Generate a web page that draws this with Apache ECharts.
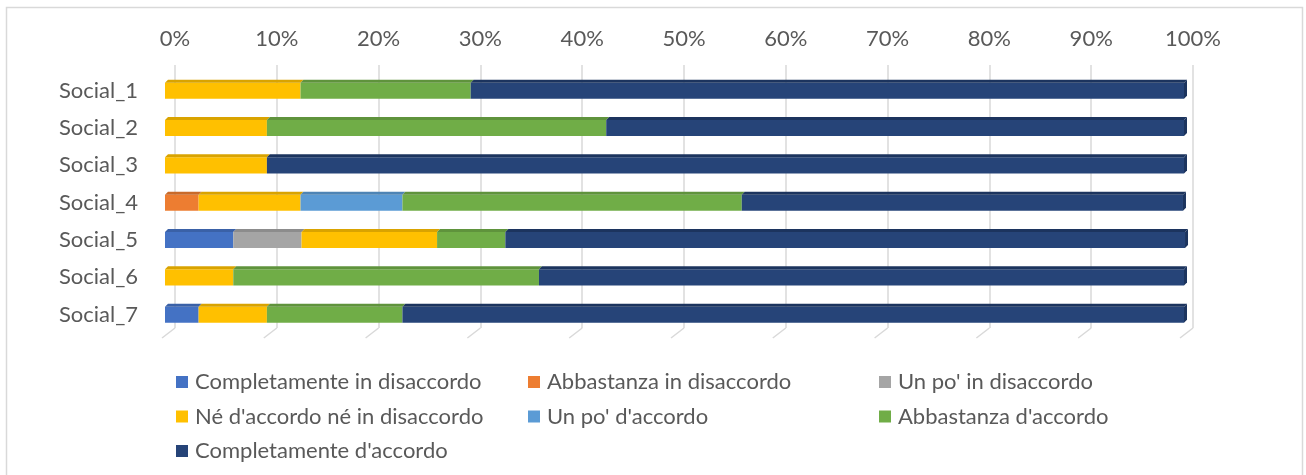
<!DOCTYPE html>
<html>
<head>
<meta charset="utf-8">
<title>Social</title>
<script src="https://cdn.jsdelivr.net/npm/echarts@6/dist/echarts.min.js"></script>
<style>
  html, body { margin: 0; padding: 0; background: #fff; }
  #main { width: 1306px; height: 475px; }
</style>
</head>
<body>
<div id="main"></div>
<script>
// categorie (dall'alto in basso)
const categories = ['Social_1', 'Social_2', 'Social_3', 'Social_4', 'Social_5', 'Social_6', 'Social_7']
// nomi delle serie
const seriesNames = [
    'Completamente in disaccordo',
    'Abbastanza in disaccordo',
    "Un po' in disaccordo",
    "Né d'accordo né in disaccordo",
    "Un po' d'accordo",
    "Abbastanza d'accordo",
    "Completamente d'accordo"
]
// valori in percentuale, uno per categoria
const completamenteDisaccordo = [0, 0, 0, 0, 6.7, 0, 3.3]
const abbastanzaDisaccordo = [0, 0, 0, 3.3, 0, 0, 0]
const unPoDisaccordo = [0, 0, 0, 0, 6.7, 0, 0]
const neNe = [13.3, 10, 10, 10, 13.3, 6.7, 6.7]
const unPoAccordo = [0, 0, 0, 10, 0, 0, 0]
const abbastanzaAccordo = [16.7, 33.3, 0, 33.3, 6.7, 30, 13.3]
const completamenteAccordo = [70, 56.7, 90, 43.3, 66.7, 63.3, 76.7]
// etichette asse
const ticks = [0, 10, 20, 30, 40, 50, 60, 70, 80, 90, 100]

const allValues = [completamenteDisaccordo, abbastanzaDisaccordo, unPoDisaccordo, neNe,
    unPoAccordo, abbastanzaAccordo, completamenteAccordo]
const colors = ['#4472C4', '#ED7D31', '#A5A5A5', '#FFC000', '#5B9BD5', '#70AD47', '#264478']
const topColors = ['#3A61A7', '#C96A2A', '#8C8C8C', '#D9A300', '#4D84B5', '#5F933C', '#1C345E']
const textColor = '#595959'
const font = 'Lato'

let ele = echarts.init(document.getElementById('main'))

// costruisco [categoria, inizio, fine] per ogni pezzo impilato
let cumul = categories.map(() => 0)
let barSeries = allValues.map((vals, si) => {
    let data = vals.map((v, ci) => {
        let start = cumul[ci]
        cumul[ci] += v
        return [ci, start, cumul[ci]]
    })
    return {
        name: seriesNames[si],
        type: 'custom',
        xAxisIndex: 0,
        yAxisIndex: 0,
        itemStyle: { color: colors[si] },
        encode: { x: [1, 2], y: 0 },
        z: 3,
        renderItem: function (params, api) {
            let cat = api.value(0)
            let s = api.value(1)
            let e = api.value(2)
            if (e - s <= 0) return
            let p0 = api.coord([s, cat])
            let p1 = api.coord([e, cat])
            let h = api.size([0, 1])[1] * 0.43
            let yTop = p0[1] - h / 2
            let d = 3
            let children = [
                { type: 'rect', shape: { x: p0[0], y: yTop, width: p1[0] - p0[0], height: h }, style: { fill: colors[si] } },
                { type: 'polygon', shape: { points: [[p0[0], yTop], [p0[0] + d, yTop - d], [p1[0] + d, yTop - d], [p1[0], yTop]] }, style: { fill: topColors[si] } }
            ]
            // lato destro solo sull'ultimo pezzo
            if (e >= 99.5) {
                children.push({ type: 'polygon', shape: { points: [[p1[0], yTop], [p1[0] + d, yTop - d], [p1[0] + d, yTop + h - d], [p1[0], yTop + h]] }, style: { fill: topColors[si] } })
            }
            return { type: 'group', children: children }
        },
        data: data
    }
})

// trattini obliqui in fondo alle linee della griglia
let slantSeries = {
    type: 'custom',
    xAxisIndex: 1,
    yAxisIndex: 1,
    z: 1,
    silent: true,
    renderItem: function (params, api) {
        let p = api.coord([api.value(0), 0])
        return {
            type: 'line',
            shape: { x1: p[0], y1: p[1], x2: p[0] - 13, y2: p[1] + 10 },
            style: { stroke: '#D9D9D9', lineWidth: 1.5 }
        }
    },
    data: ticks.map(t => [t])
}

function legendCol(names, left) {
    return {
        data: names,
        left: left,
        top: 371,
        orient: 'vertical',
        padding: 0,
        icon: 'rect',
        itemWidth: 12,
        itemHeight: 12,
        itemGap: 12.5,
        selectedMode: false,
        textStyle: { fontSize: 22, color: textColor, fontFamily: font, lineHeight: 22, padding: [0, 0, 0, 2] }
    }
}

const option = {
    animation: false,
    graphic: [{
        type: 'rect',
        shape: { x: 6.5, y: 7.5, width: 1296, height: 490 },
        style: { fill: 'none', stroke: '#D9D9D9', lineWidth: 1.5 },
        silent: true
    }],
    grid: [
        { left: 165, right: 122, top: 72, bottom: 141.6 },
        { left: 175, right: 113, top: 65, bottom: 147 }
    ],
    legend: [
        legendCol([seriesNames[0], seriesNames[3], seriesNames[6]], 176),
        legendCol([seriesNames[1], seriesNames[4]], 528),
        legendCol([seriesNames[2], seriesNames[5]], 879)
    ],
    xAxis: [
        { type: 'value', gridIndex: 0, min: 0, max: 100, show: false },
        {
            type: 'value', gridIndex: 1, min: 0, max: 100, interval: 10, position: 'top',
            axisLine: { show: false },
            axisTick: { show: false },
            axisLabel: { formatter: '{value}%', fontSize: 22, color: textColor, fontFamily: font, margin: 15 },
            splitLine: { lineStyle: { color: '#D9D9D9', width: 1.5 } }
        }
    ],
    yAxis: [
        {
            type: 'category', gridIndex: 0, data: categories, inverse: true,
            axisLine: { show: false },
            axisTick: { show: false },
            splitLine: { show: false },
            axisLabel: { fontSize: 22, color: textColor, fontFamily: font, margin: 27 }
        },
        { type: 'value', gridIndex: 1, min: 0, max: 1, show: false }
    ],
    series: barSeries.concat([slantSeries])
}

ele.setOption(option)
</script>
</body>
</html>
